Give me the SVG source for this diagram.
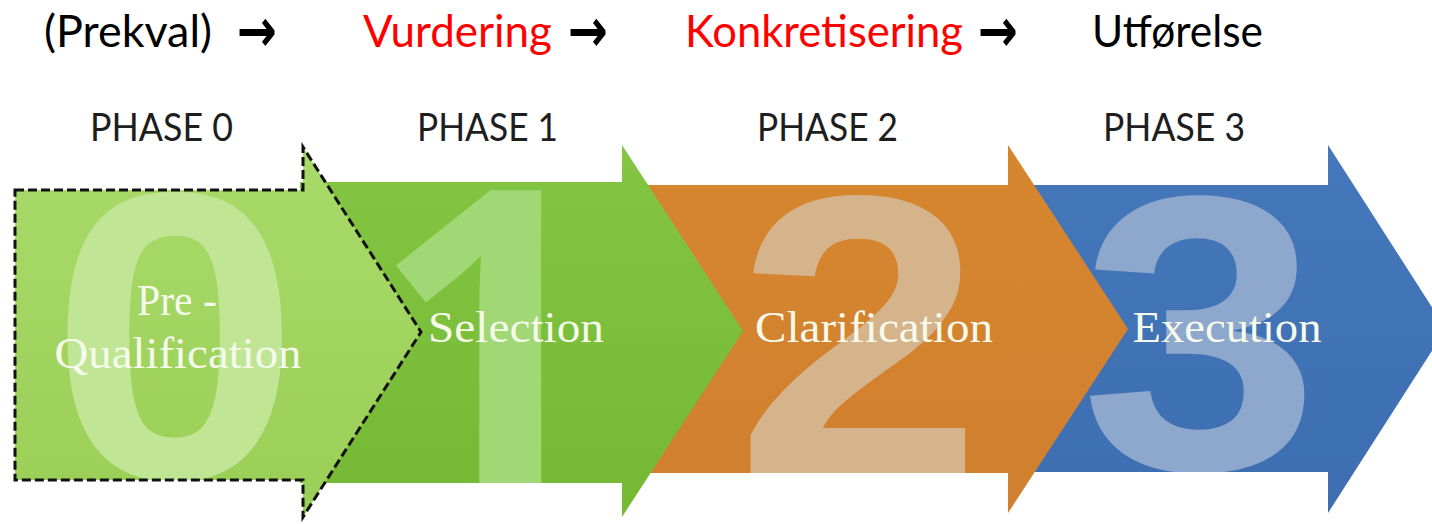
<svg xmlns="http://www.w3.org/2000/svg" width="1432" height="524" viewBox="0 0 1432 524">
<style>
.hdr{font-family:Lato,"Liberation Sans",sans-serif;font-size:45px;}
.arr{font-family:"Noto Sans","DejaVu Sans",sans-serif;font-weight:bold;font-size:60px;fill:#000;}
.phase{font-family:Lato,"Liberation Sans",sans-serif;font-size:38px;fill:#1e1e1e;}
.lbl{font-family:"Liberation Serif",serif;font-size:45px;fill:#f5faeb;text-anchor:middle;}
.num{font-family:"Liberation Sans",sans-serif;font-weight:bold;text-anchor:middle;}
.num1{font-family:"Open Sans","Liberation Sans",sans-serif;font-weight:bold;text-anchor:middle;}
</style>
<defs>
<linearGradient id="g0" x1="0" y1="0" x2="0" y2="1"><stop offset="0" stop-color="#a9da6a"/><stop offset="1" stop-color="#9acf56"/></linearGradient>
<linearGradient id="g1" x1="0" y1="0" x2="0" y2="1"><stop offset="0" stop-color="#84c643"/><stop offset="1" stop-color="#74b833"/></linearGradient>
<linearGradient id="g2" x1="0" y1="0" x2="0" y2="1"><stop offset="0" stop-color="#d7862f"/><stop offset="1" stop-color="#d0802e"/></linearGradient>
<linearGradient id="g3" x1="0" y1="0" x2="0" y2="1"><stop offset="0" stop-color="#4577bb"/><stop offset="1" stop-color="#3d6eb2"/></linearGradient>
<clipPath id="c0"><rect x="15" y="190" width="406" height="290"/></clipPath>
<clipPath id="c1"><rect x="300" y="185" width="443" height="298"/></clipPath>
<clipPath id="c2"><rect x="640" y="185" width="488" height="288"/></clipPath>
<clipPath id="c3"><rect x="1020" y="185" width="426" height="287"/></clipPath>
</defs>
<rect width="1432" height="524" fill="#fff"/>

<g id="header">
<text class="hdr" x="44" y="47" textLength="168" lengthAdjust="spacingAndGlyphs" fill="#000">(Prekval)</text>
<text class="hdr" x="363" y="47" textLength="189" lengthAdjust="spacingAndGlyphs" fill="#ff0000">Vurdering</text>
<text class="hdr" x="685" y="47" textLength="278" lengthAdjust="spacingAndGlyphs" fill="#ff0000">Konkretisering</text>
<text class="hdr" x="1092" y="47" textLength="171" lengthAdjust="spacingAndGlyphs" fill="#000">Utførelse</text>
</g>
<g id="connectors">
<text class="arr" x="237" y="51" textLength="40" lengthAdjust="spacingAndGlyphs">→</text>
<text class="arr" x="568" y="51" textLength="40" lengthAdjust="spacingAndGlyphs">→</text>
<text class="arr" x="978" y="51" textLength="40" lengthAdjust="spacingAndGlyphs">→</text>
</g>

<g id="phase3">
<text class="phase" x="1103" y="141" textLength="142" lengthAdjust="spacingAndGlyphs">PHASE 3</text>
<path d="M1020,185 H1328 V145 L1446,329 L1328,513 V472 H1020 Z" fill="url(#g3)"/>
<g clip-path="url(#c3)"><text class="num" transform="translate(1200,469) scale(1.1,1)" font-size="392" fill="#8ea8cd">3</text></g>
<text class="lbl" x="1227" y="342" textLength="189" lengthAdjust="spacingAndGlyphs">Execution</text>
</g>

<g id="phase2">
<text class="phase" x="757" y="141" textLength="141" lengthAdjust="spacingAndGlyphs">PHASE 2</text>
<path d="M640,185 H1008 V145 L1128,329 L1008,513 V473 H640 Z" fill="url(#g2)"/>
<g clip-path="url(#c2)"><text class="num" transform="translate(859,473) scale(1.12,1)" font-size="398" fill="#d5b48b">2</text></g>
<text class="lbl" x="874" y="342" textLength="238" lengthAdjust="spacingAndGlyphs">Clarification</text>
</g>

<g id="phase1">
<text class="phase" x="417" y="141" textLength="141" lengthAdjust="spacingAndGlyphs">PHASE 1</text>
<path d="M300,182 H622 V145 L743,331 L622,517 V483 H300 Z" fill="url(#g1)"/>
<g clip-path="url(#c1)"><text class="num1" x="489" y="483" font-size="410" fill="#a1d775">1</text></g>
<text class="lbl" x="516" y="342" textLength="176" lengthAdjust="spacingAndGlyphs">Selection</text>
</g>

<g id="phase0">
<text class="phase" x="90" y="141" textLength="143" lengthAdjust="spacingAndGlyphs">PHASE 0</text>
<path d="M15,190 H303 V147 L421,332 L303,517 V480 H15 Z" fill="url(#g0)"/>
<g clip-path="url(#c0)"><text class="num" transform="translate(175,478) scale(1.1,1)" font-size="410" fill="#c0e695">0</text></g>
<path d="M15,190 H303 V147 L421,332 L303,517 V480 H15 Z" fill="none" stroke="#111" stroke-width="3" stroke-dasharray="9,4"/>
<text class="lbl" x="177" y="315" textLength="80" lengthAdjust="spacingAndGlyphs">Pre -</text>
<text class="lbl" x="178" y="368" textLength="247" lengthAdjust="spacingAndGlyphs">Qualification</text>
</g>
</svg>
